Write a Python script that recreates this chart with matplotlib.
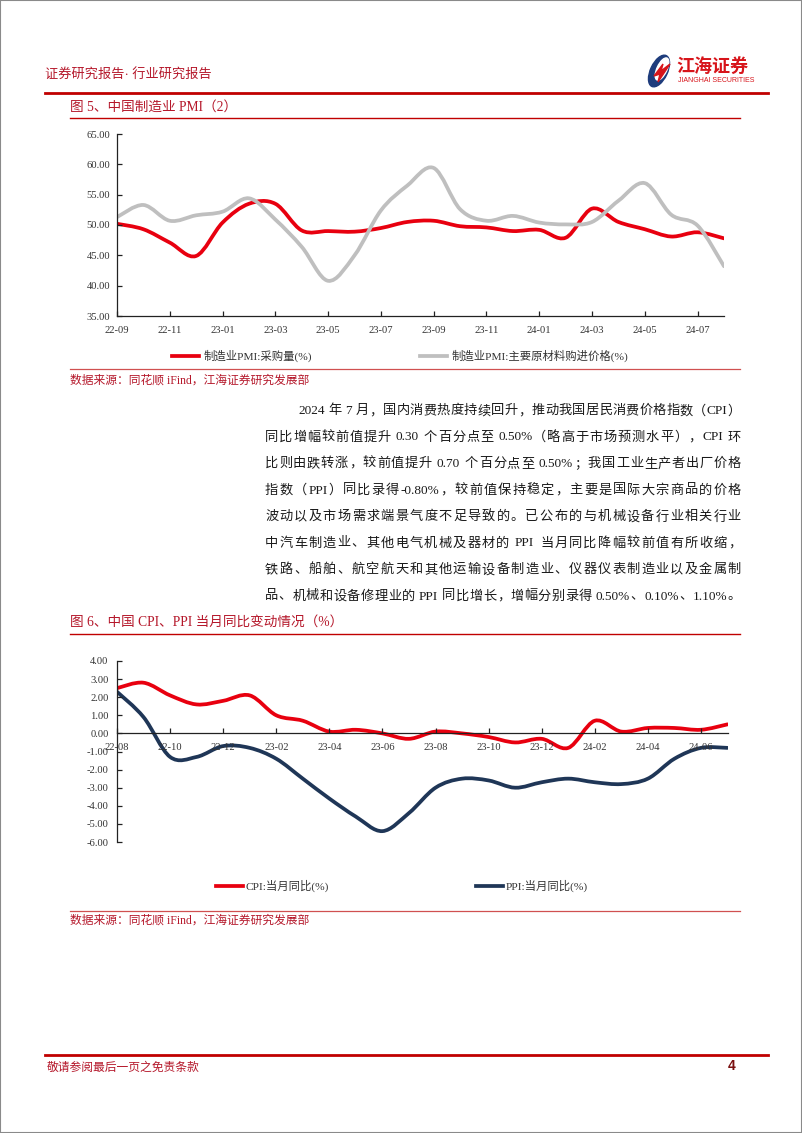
import re
import numpy as np
import matplotlib
matplotlib.use("Agg")
import matplotlib.pyplot as plt
from matplotlib.path import Path
from matplotlib.patches import PathPatch, Ellipse, Rectangle, Polygon
from matplotlib.lines import Line2D

# ---- data -------------------------------------------------------------
pmi_months = ['22-09', '22-10', '22-11', '22-12', '23-01', '23-02', '23-03', '23-04',
              '23-05', '23-06', '23-07', '23-08', '23-09', '23-10', '23-11', '23-12',
              '24-01', '24-02', '24-03', '24-04', '24-05', '24-06', '24-07', '24-08']
pmi_purchase = [50.2, 49.3, 47.1, 44.9, 50.4, 53.5, 53.5, 49.1, 49.0, 48.9, 49.5, 50.5,
                50.7, 49.8, 49.6, 49.0, 49.2, 47.9, 52.7, 50.5, 49.3, 48.1, 48.8, 47.8]
pmi_input_price = [51.3, 53.3, 50.7, 51.6, 52.2, 54.4, 50.9, 46.4, 40.8, 45.0, 52.4, 56.5,
                   59.4, 52.6, 50.7, 51.5, 50.4, 50.1, 50.5, 54.0, 56.9, 51.7, 49.9, 43.2]
pmi_yticks = [35, 40, 45, 50, 55, 60, 65]

cpi_months = ['22-08', '22-09', '22-10', '22-11', '22-12', '23-01', '23-02', '23-03',
              '23-04', '23-05', '23-06', '23-07', '23-08', '23-09', '23-10', '23-11',
              '23-12', '24-01', '24-02', '24-03', '24-04', '24-05', '24-06', '24-07']
cpi_yoy = [2.5, 2.8, 2.1, 1.6, 1.8, 2.1, 1.0, 0.7, 0.1, 0.2, 0.0, -0.3,
           0.1, 0.0, -0.2, -0.5, -0.3, -0.8, 0.7, 0.1, 0.3, 0.3, 0.2, 0.5]
ppi_yoy = [2.3, 0.9, -1.3, -1.3, -0.7, -0.8, -1.4, -2.5, -3.6, -4.6, -5.4, -4.4,
           -3.0, -2.5, -2.6, -3.0, -2.7, -2.5, -2.7, -2.8, -2.5, -1.4, -0.8, -0.8]
cpi_yticks = [-6, -5, -4, -3, -2, -1, 0, 1, 2, 3, 4]

paragraph = [
    "2024 年 7 月，国内消费热度持续回升，推动我国居民消费价格指数（CPI）",
    "同比增幅较前值提升 0.30 个百分点至 0.50%（略高于市场预测水平），CPI 环",
    "比则由跌转涨，较前值提升 0.70 个百分点至 0.50%；我国工业生产者出厂价格",
    "指数（PPI）同比录得-0.80%，较前值保持稳定，主要是国际大宗商品的价格",
    "波动以及市场需求端景气度不足导致的。已公布的与机械设备行业相关行业",
    "中汽车制造业、其他电气机械及器材的 PPI 当月同比降幅较前值有所收缩，",
    "铁路、船舶、航空航天和其他运输设备制造业、仪器仪表制造业以及金属制",
    "品、机械和设备修理业的 PPI 同比增长，增幅分别录得 0.50%、0.10%、1.10%。",
]

# ---- style ------------------------------------------------------------
W, H = 802, 1133
FONT = ['Liberation Serif', 'Noto Sans CJK SC']
plt.rcParams['font.family'] = FONT
RED = '#E8000F'
GRAY = '#BFBFBF'
NAVY = '#1F3657'
DARKRED = '#C00000'
TXTRED = '#B5182B'

fig = plt.figure(figsize=(W / 100, H / 100), dpi=100)


def fx(x):
    return x / W


def fy(y):
    return 1 - y / H


def hline(x0, x1, y, color, lw):
    fig.add_artist(Line2D([fx(x0), fx(x1)], [fy(y), fy(y)], color=color, lw=lw,
                          transform=fig.transFigure))


def smooth_path(x, y):
    # excel-like smoothed line: cubic bezier segments through the data points
    pts = np.column_stack([x, y]).astype(float)
    n = len(pts)
    verts, codes = [pts[0]], [Path.MOVETO]
    for i in range(n - 1):
        p0 = pts[i - 1] if i > 0 else pts[i]
        p1, p2 = pts[i], pts[i + 1]
        p3 = pts[i + 2] if i + 2 < n else pts[i + 1]
        verts += [p1 + (p2 - p0) / 6, p2 - (p3 - p1) / 6, p2]
        codes += [Path.CURVE4] * 3
    return Path(verts, codes)


def add_series(ax, values, color):
    path = smooth_path(np.arange(len(values)), values)
    ax.add_patch(PathPatch(path, fill=False, edgecolor=color, lw=2.7,
                           capstyle='round', joinstyle='round'))


def style_axes(ax):
    for s in ['top', 'right']:
        ax.spines[s].set_visible(False)
    for s in ['left', 'bottom']:
        ax.spines[s].set_linewidth(0.9)
        ax.spines[s].set_color('#222222')
    ax.tick_params(direction='in', length=3.5, width=0.9, labelsize=7.6,
                   labelcolor='#333333', color='#222222')
    ax.set_facecolor('none')


# ---- page frame, header, footer --------------------------------------
fig.add_artist(Rectangle((0, 0), 1, 1, transform=fig.transFigure, fill=False,
                         edgecolor='#8a8a8a', lw=1.5))
fig.text(fx(45), fy(75), "证券研究报告· 行业研究报告", fontsize=9.5, color=TXTRED,
         va='center', ha='left')
hline(45, 768, 93, DARKRED, 2.0)

# logo
lax = fig.add_axes([fx(645), fy(90), 32 / W, 40 / H])
lax.set_xlim(0, 32)
lax.set_ylim(0, 40)
lax.axis('off')
lax.add_patch(Ellipse((14, 19), 17, 34, angle=-25, color='#1E3C7C'))
lax.add_patch(Ellipse((17, 21), 10, 24, angle=-25, color='white'))
lax.add_patch(Polygon([[9, 14], [18, 26], [16, 19], [25, 26], [13, 8], [15, 16]],
                      closed=True, color='#D7141A'))
fig.text(fx(676), fy(66), "江海证券", fontsize=13, fontweight='bold', color='#D7141A',
         family='Noto Sans CJK SC', va='center', ha='left')
fig.text(fx(678), fy(80), "JIANGHAI SECURITIES", fontsize=5, color='#D7141A',
         family='Liberation Sans', va='center', ha='left')

hline(45, 768, 1055, DARKRED, 2.0)
fig.text(fx(47), fy(1068), "敬请参阅最后一页之免责条款", fontsize=8.5, color=TXTRED,
         va='center', ha='left')
fig.text(fx(728), fy(1066), "4", fontsize=10, color='#7a1010', fontweight='bold',
         family='Liberation Sans', va='center', ha='left')

# ---- figure 5 ---------------------------------------------------------
fig.text(fx(70), fy(107), "图 5、中国制造业 PMI（2）", fontsize=9.8, color=TXTRED,
         va='center', ha='left')
hline(70, 740, 118, DARKRED, 1.0)

ax1 = fig.add_axes([fx(117), fy(316), fx(724) - fx(117), (316 - 134) / H])
style_axes(ax1)
ax1.set_xlim(0, len(pmi_months) - 1)
ax1.set_ylim(pmi_yticks[0], pmi_yticks[-1])
ax1.set_yticks(pmi_yticks)
ax1.set_yticklabels([f'{v:.2f}' for v in pmi_yticks])
ax1.set_xticks(range(0, len(pmi_months), 2))
ax1.set_xticklabels(pmi_months[::2])
ax1.tick_params(axis='x', pad=7)
ax1.tick_params(axis='y', pad=5)
add_series(ax1, pmi_purchase, RED)
add_series(ax1, pmi_input_price, GRAY)

# legend
hline(172, 199, 356, RED, 2.7)
fig.text(fx(204), fy(356), "制造业PMI:采购量(%)", fontsize=8.2, color='#333333',
         va='center', ha='left')
hline(420, 447, 356, GRAY, 2.7)
fig.text(fx(452), fy(356), "制造业PMI:主要原材料购进价格(%)", fontsize=8.2, color='#333333',
         va='center', ha='left')
hline(70, 740, 369, '#D05050', 0.9)
fig.text(fx(70), fy(381), "数据来源：同花顺 iFind，江海证券研究发展部", fontsize=8.5,
         color=TXTRED, va='center', ha='left')

# ---- paragraph (justified) -------------------------------------------
renderer = fig.canvas.get_renderer()


def justified(line, x0, x1, y, size):
    tokens = re.findall(r'[A-Za-z0-9.%\-]+|\s+|.', line)
    items = []
    for tok in tokens:
        t = fig.text(0, 0, tok, fontsize=size, color='#1a1a1a', va='center', ha='left')
        w = t.get_window_extent(renderer).width if tok.strip() else size * 0.35
        items.append((t, w))
    gap = (x1 - x0 - sum(w for _, w in items)) / max(len(items) - 1, 1)
    x = x0
    for t, w in items:
        t.set_position((fx(x), fy(y)))
        x += w + gap


for i, line in enumerate(paragraph):
    start = 298 if i == 0 else 265
    justified(line, start, 741, 411 + i * 26.5, 9.5)

# ---- figure 6 ---------------------------------------------------------
fig.text(fx(70), fy(622), "图 6、中国 CPI、PPI 当月同比变动情况（%）", fontsize=9.8,
         color=TXTRED, va='center', ha='left')
hline(70, 740, 634, DARKRED, 1.0)

ax2 = fig.add_axes([fx(117), fy(842), fx(727.5) - fx(117), (842 - 661) / H])
style_axes(ax2)
ax2.spines['bottom'].set_position(('data', 0))
ax2.set_xlim(0, len(cpi_months) - 1)
ax2.set_ylim(cpi_yticks[0], cpi_yticks[-1])
ax2.set_yticks(cpi_yticks)
ax2.set_yticklabels([f'{v:.2f}' for v in cpi_yticks])
ax2.set_xticks(range(0, len(cpi_months), 2))
ax2.set_xticklabels(cpi_months[::2])
ax2.tick_params(axis='x', pad=7)
ax2.tick_params(axis='y', pad=6)
add_series(ax2, cpi_yoy, RED)
add_series(ax2, ppi_yoy, NAVY)

hline(216, 243, 886, RED, 2.7)
fig.text(fx(246), fy(886), "CPI:当月同比(%)", fontsize=8.2, color='#333333',
         va='center', ha='left')
hline(476, 503, 886, NAVY, 2.7)
fig.text(fx(506), fy(886), "PPI:当月同比(%)", fontsize=8.2, color='#333333',
         va='center', ha='left')
hline(70, 740, 911, '#D05050', 0.9)
fig.text(fx(70), fy(921), "数据来源：同花顺 iFind，江海证券研究发展部", fontsize=8.5,
         color=TXTRED, va='center', ha='left')

fig.savefig("out.png", dpi=100)
